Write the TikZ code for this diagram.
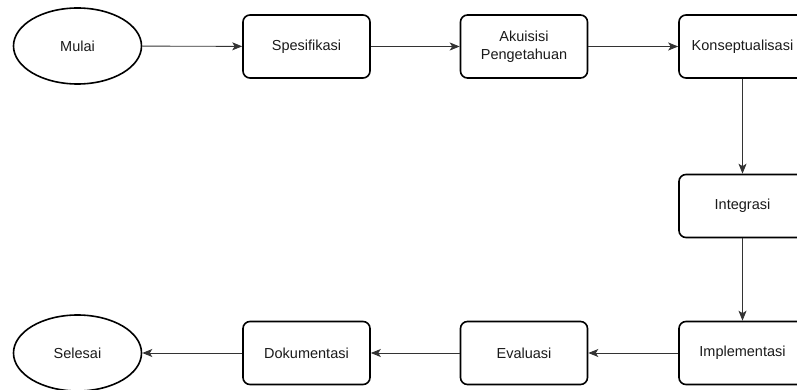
\documentclass[tikz,border=0pt]{standalone}
\usepackage{fontspec}
\setmainfont{Liberation Sans}
\usetikzlibrary{arrows.meta,shapes.geometric}
\definecolor{txt}{HTML}{1A1A1A}
\definecolor{ln}{HTML}{333333}
\tikzset{
  proc/.style={draw=black, line width=1.6pt, rounded corners=7pt, minimum width=127pt, minimum height=63pt, inner sep=0pt, align=center, text=txt, font=\fontsize{14.5}{18}\selectfont},
  term/.style={draw=black, ellipse, line width=1.6pt, minimum width=128pt, minimum height=76pt, inner sep=0pt, text=txt, font=\fontsize{14.5}{18}\selectfont},
  flow/.style={draw=ln, line width=0.9pt, -{Stealth[length=10pt, width=8pt, inset=2.5pt]}}
}
\begin{document}
\begin{tikzpicture}[x=1pt, y=-1pt]
\useasboundingbox (0,0) rectangle (797,390);
\clip (0,0) rectangle (797,390);
\node[term] (mulai) at (77.5,46) {Mulai};
\node[proc] (spes) at (306.5,46.5) {Spesifikasi};
\node[proc] (akui) at (524,46.5) {Akuisisi\\Pengetahuan};
\node[proc] (kons) at (742.5,46.5) {Konseptualisasi};
\node[proc] (inte) at (742.5,206) {Integrasi};
\node[proc] (impl) at (742.5,353) {Implementasi};
\node[proc] (eval) at (524,353) {Evaluasi};
\node[proc] (doku) at (306.5,353) {Dokumentasi};
\node[term] (sele) at (77.5,353) {Selesai};
\draw[flow] (mulai) -- (spes);
\draw[flow] (spes) -- (akui);
\draw[flow] (akui) -- (kons);
\draw[flow] (kons) -- (inte);
\draw[flow] (inte) -- (impl);
\draw[flow] (impl) -- (eval);
\draw[flow] (eval) -- (doku);
\draw[flow] (doku) -- (sele);
\end{tikzpicture}
\end{document}
